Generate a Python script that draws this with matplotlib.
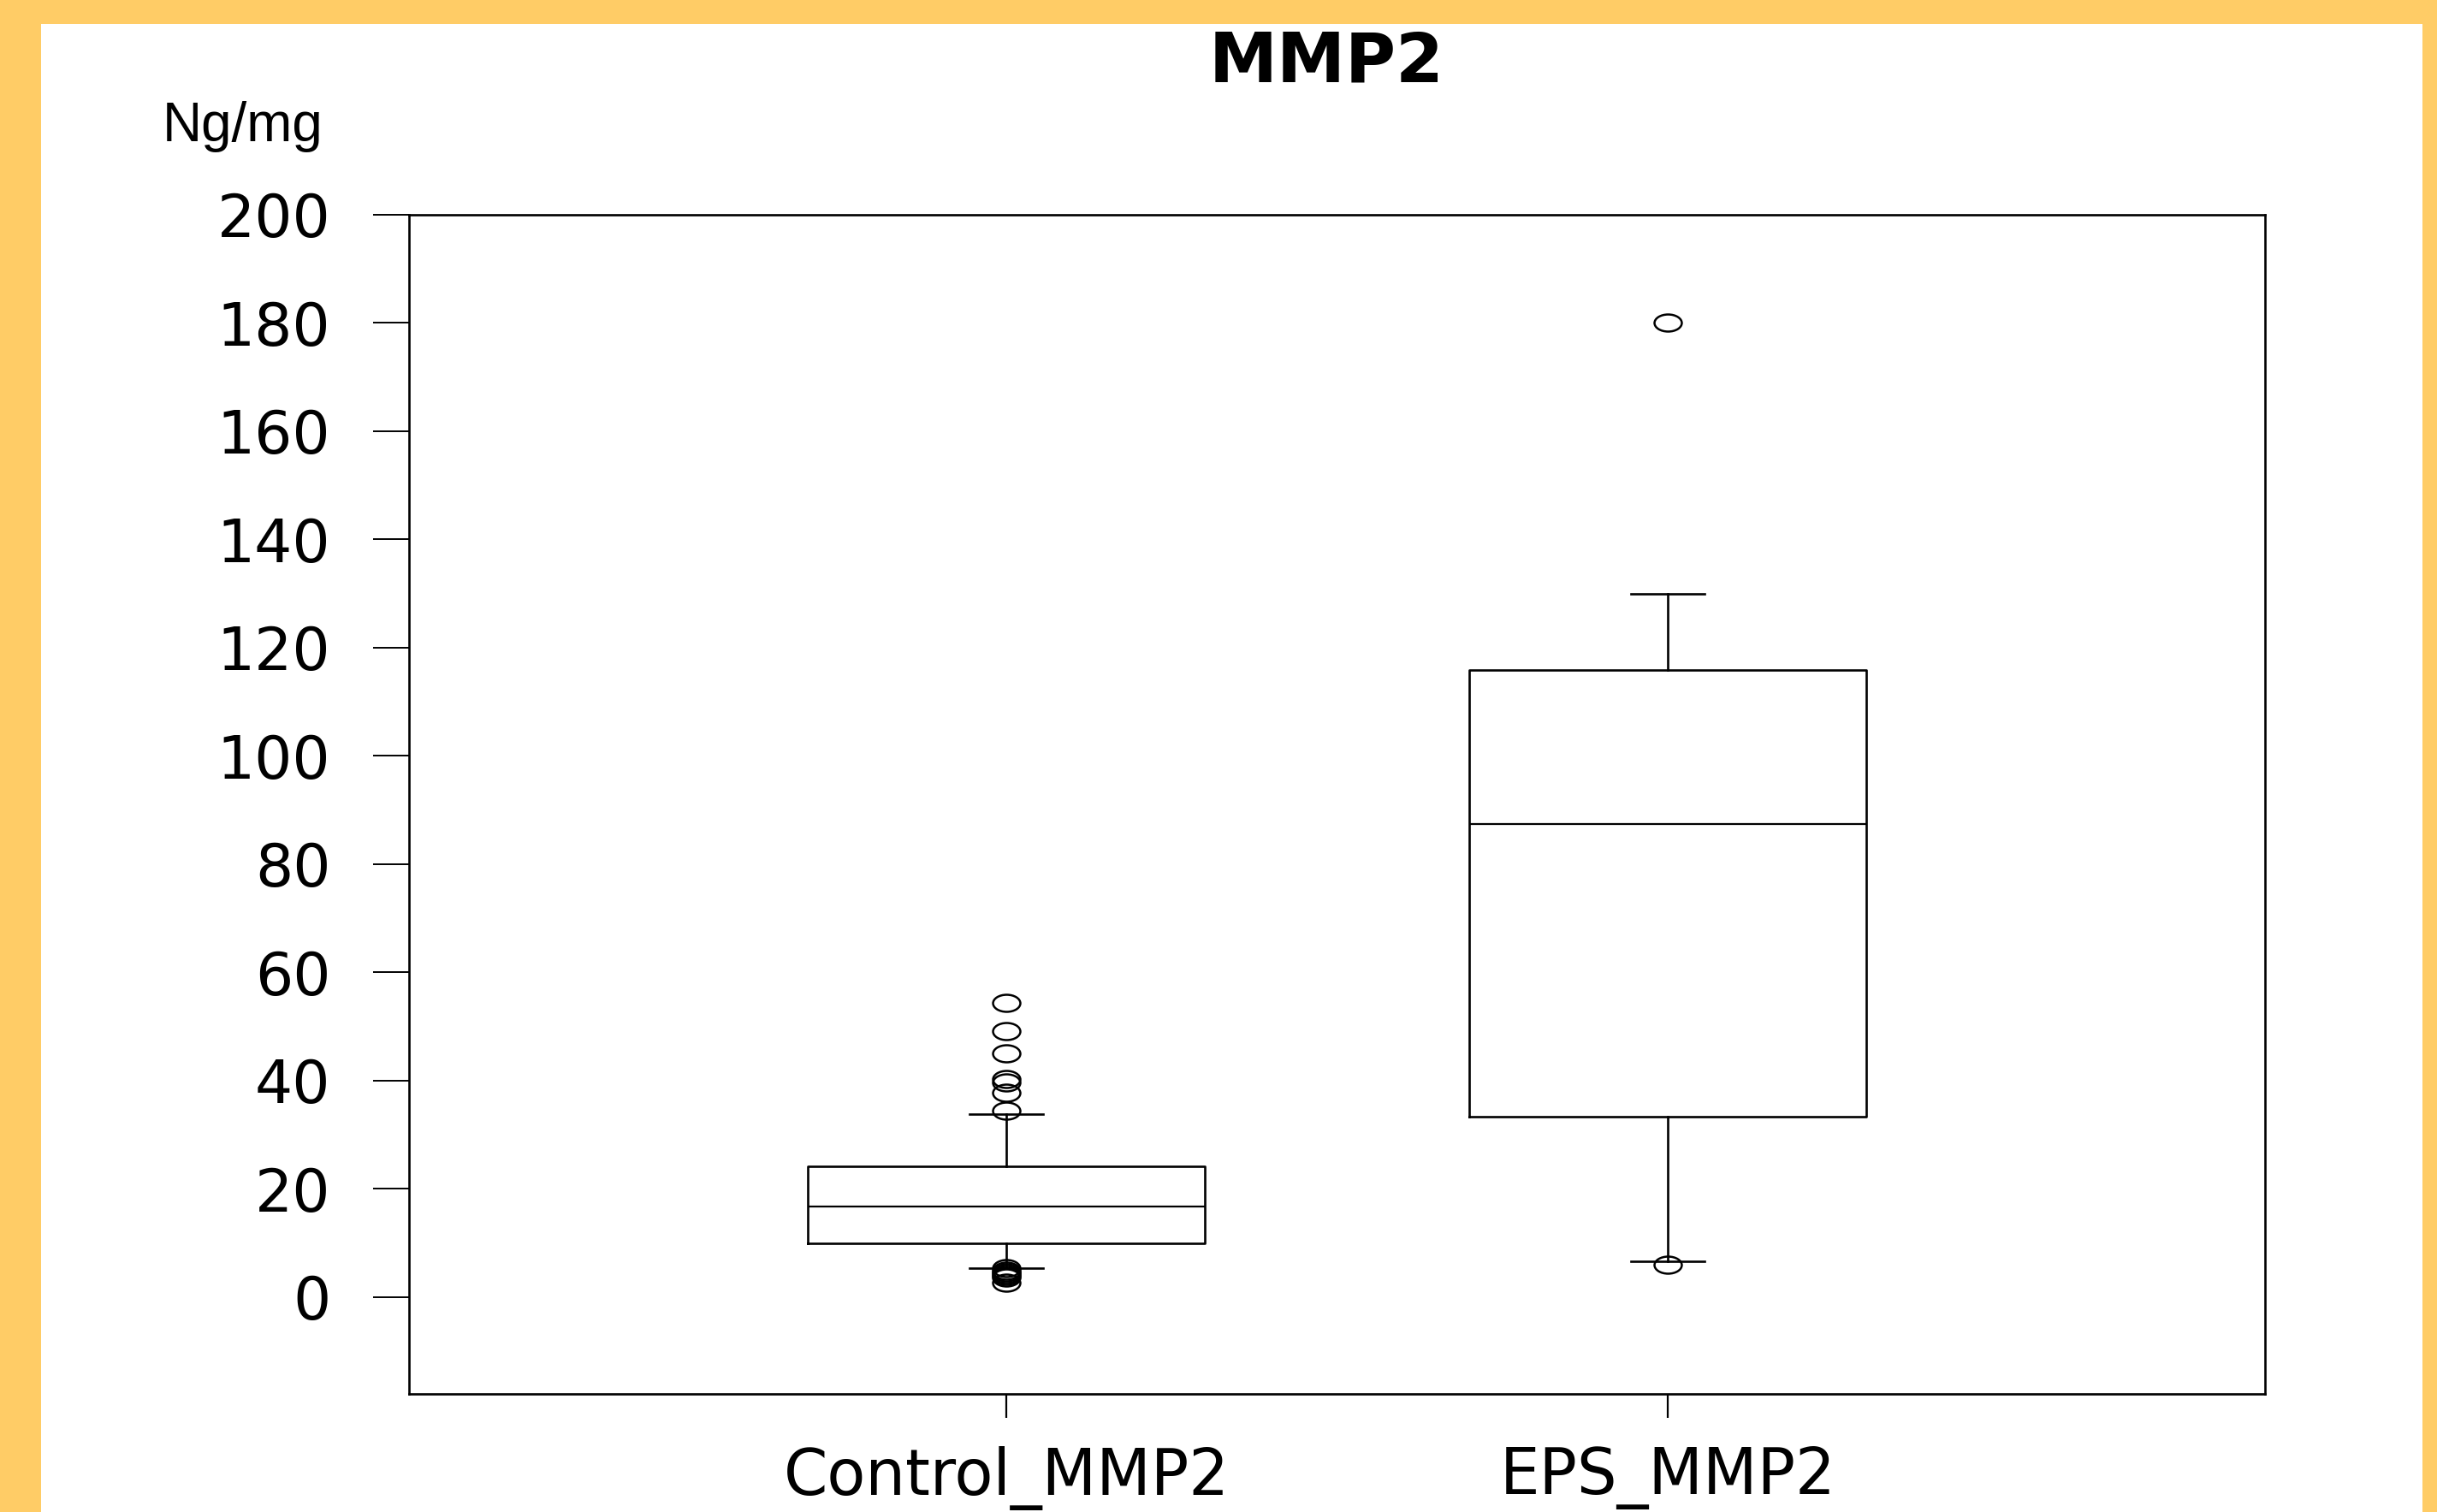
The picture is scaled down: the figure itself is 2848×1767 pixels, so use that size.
import matplotlib
matplotlib.use('Agg')
import matplotlib.pyplot as plt
from matplotlib.patches import Rectangle
from matplotlib.path import Path
from matplotlib.transforms import Affine2D

# Box statistics (Ng/mg)
groups = ['Control_MMP2', 'EPS_MMP2']
q1 = [9.9, 33.3]
medians = [16.8, 87.4]
q3 = [24.1, 115.8]
whisker_low = [5.3, 6.6]
whisker_high = [33.8, 129.9]
outliers = [
    [54.3, 49.1, 45.1, 40.3, 39.6, 37.7, 34.5, 5.4, 4.8, 4.5, 4.2, 3.9, 3.6, 2.7],
    [180.1, 6.0],
]
y_ticks = [0, 20, 40, 60, 80, 100, 120, 140, 160, 180, 200]

stats = []
for i, name in enumerate(groups):
    stats.append({'label': name, 'q1': q1[i], 'med': medians[i], 'q3': q3[i],
                  'whislo': whisker_low[i], 'whishi': whisker_high[i],
                  'fliers': outliers[i]})

W, H = 2848, 1767
fig = plt.figure(figsize=(W / 100, H / 100), dpi=100, facecolor='#FFCC66')
fig.add_artist(Rectangle((48 / W, 0), (2831 - 48) / W, (H - 28) / H,
                         transform=fig.transFigure, facecolor='white',
                         edgecolor='none', zorder=-1))

ax = fig.add_axes([478 / W, 1 - 1629 / H, (2647 - 478) / W, (1629 - 251) / H])

# wide open ellipse for outliers
ellipse = Path.unit_circle().transformed(Affine2D().scale(1.6, 1.0))

line = dict(color='black', linewidth=1.9)
ax.bxp(stats, positions=[1, 2], widths=0.6, capwidths=0.11,
       boxprops=line, whiskerprops=line, capprops=line,
       medianprops=dict(color='black', linewidth=1.6),
       flierprops=dict(marker=ellipse, markerfacecolor='none',
                       markeredgecolor='black', markersize=23,
                       markeredgewidth=1.8, linestyle='none'))

ax.set_xlim(0.097, 2.903)
ax.set_ylim(-17.9, 200)
ax.set_yticks(y_ticks)
ax.set_yticklabels([str(v) for v in y_ticks], family='DejaVu Sans', fontsize=50)
ax.set_xticks([1, 2])
ax.set_xticklabels(groups, family='DejaVu Sans', fontsize=53)
ax.tick_params(axis='y', length=30, width=1.4, pad=36)
ax.tick_params(axis='x', length=20, width=1.6, pad=24)
for s in ax.spines.values():
    s.set_linewidth(1.9)

fig.text(1550 / W, 1 - 73 / H, 'MMP2', ha='center', va='center',
         family='DejaVu Sans', fontweight='bold', fontsize=58)
fig.text(190 / W, 1 - 165 / H, 'Ng/mg', ha='left', va='baseline',
         family='Liberation Sans', fontsize=46)

fig.savefig('out.png', dpi=100, facecolor=fig.get_facecolor())
